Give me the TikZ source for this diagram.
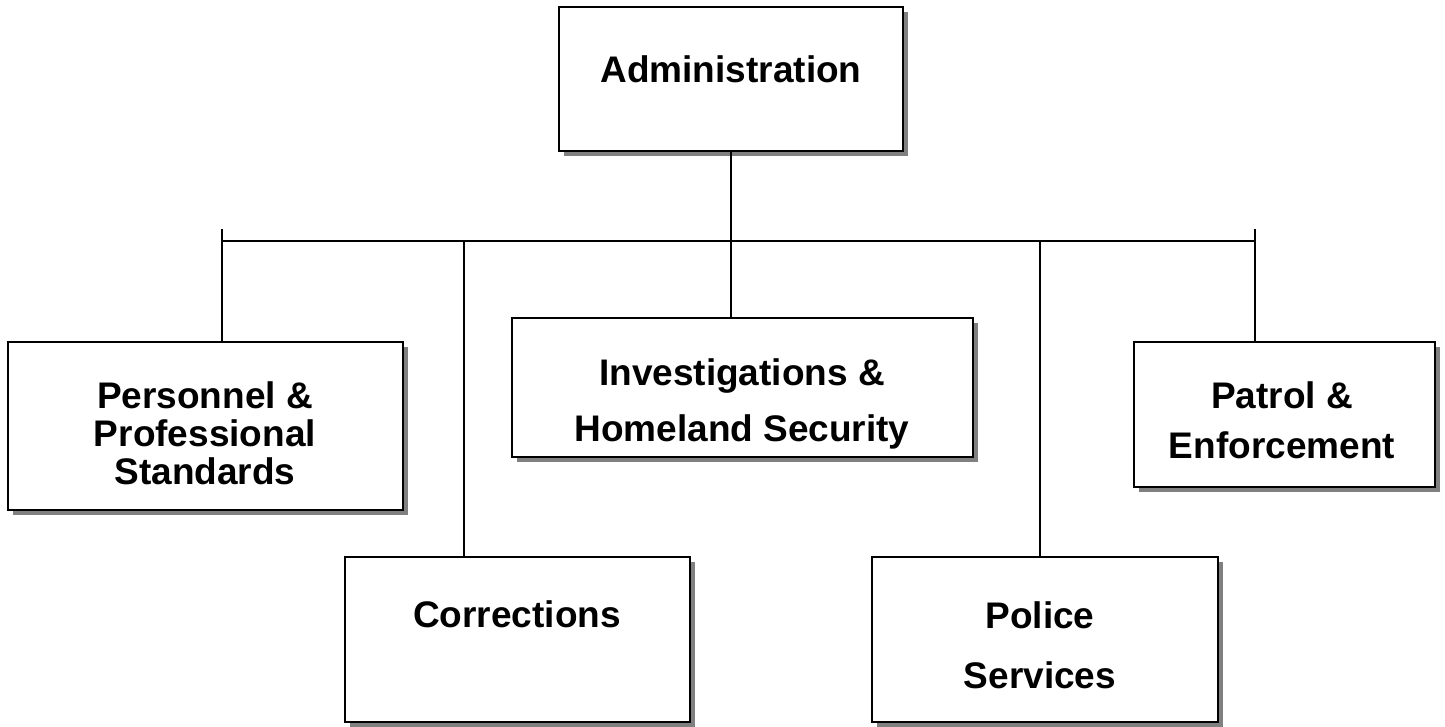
\documentclass[tikz,border=0pt]{standalone}
\usepackage{fontspec}
\usetikzlibrary{shadows}
\setmainfont{Liberation Sans}
\begin{document}
\begin{tikzpicture}[x=1pt,y=-1pt,
  unitbox/.style={draw=black,line width=2pt,fill=white,inner sep=0pt,
    minimum width=#1,
    drop shadow={shadow xshift=5pt,shadow yshift=-5pt,fill=black!50,opacity=1}},
  link/.style={draw=black,line width=1.6pt},
  label/.style={align=center,inner sep=0pt},
  lines/.style={font=\bfseries\fontsize{37}{#1}\selectfont}]
\useasboundingbox (0,0) rectangle (1445,727);
% unit boxes
\node[unitbox=344pt,minimum height=144pt] (adm) at (731,79) {};
\node[unitbox=395pt,minimum height=168pt] (per) at (205.5,426) {};
\node[unitbox=345pt,minimum height=165pt] (cor) at (517.5,639.5) {};
\node[unitbox=461pt,minimum height=139pt] (inv) at (742.5,387.5) {};
\node[unitbox=346pt,minimum height=165pt] (pol) at (1045,639.5) {};
\node[unitbox=301pt,minimum height=145pt] (pat) at (1284.5,414.5) {};
% labels
\node[label,lines=40] (tadm) at (731,69) {Administration};
\node[label,lines=38] (tper) at (205,433) {Personnel \&\\Professional\\Standards};
\node[label,lines=40] (tcor) at (517,614) {Corrections};
\node[label,lines=56] (tinv) at (742,404) {Investigations \&\\Homeland Security};
\node[label,lines=60] (tpol) at (1040,645) {Police\\Services};
\node[label,lines=50] (tpat) at (1282,420) {Patrol \&\\Enforcement};
% connectors
\coordinate (bus) at (731,241);
\coordinate (bl) at (222,241);
\coordinate (br) at (1255,241);
\coordinate (blt) at (222,229);
\coordinate (brt) at (1255,229);
\coordinate (bc) at (464,241);
\coordinate (bp) at (1040,241);
\draw[link] (adm.south) -- (adm.south |- inv.north);
\draw[link] (bl) -- (br);
\draw[link] (blt) -- (blt |- per.north);
\draw[link] (brt) -- (brt |- pat.north);
\draw[link] (bc) -- (bc |- cor.north);
\draw[link] (bp) -- (bp |- pol.north);
\end{tikzpicture}
\end{document}
